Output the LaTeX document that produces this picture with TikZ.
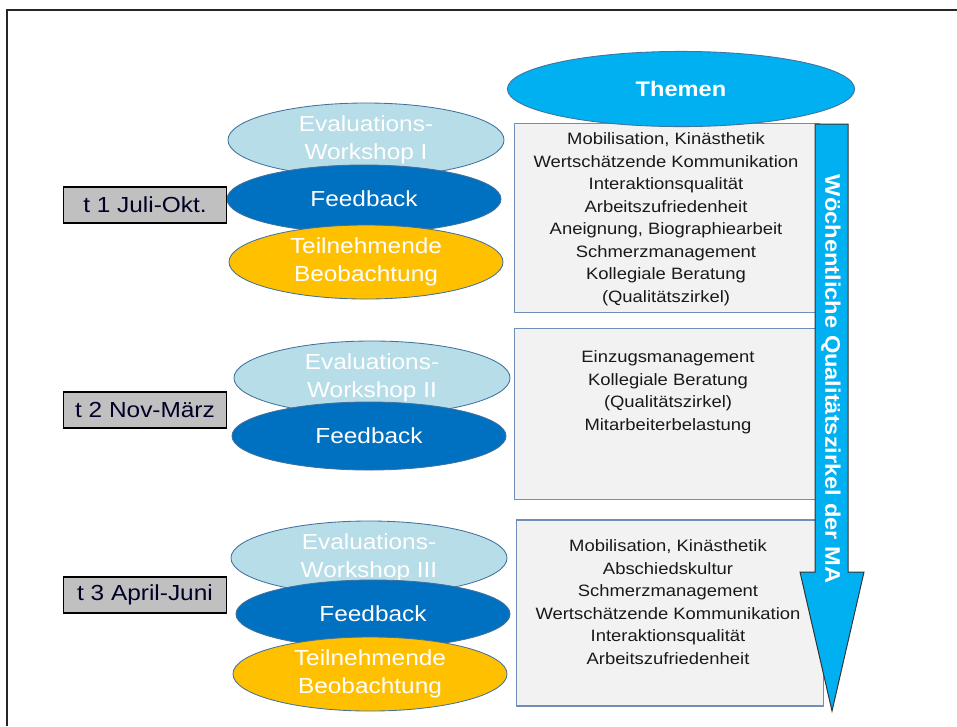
\documentclass[tikz,border=0pt]{standalone}
\usepackage{fontspec}
\setmainfont{Liberation Sans}[FakeStretch=1.12]
\usepackage{tikz}
\usetikzlibrary{positioning,shapes.geometric}

\definecolor{evalblue}{HTML}{B7DDE8}
\definecolor{feedblue}{HTML}{0070C0}
\definecolor{obsyellow}{HTML}{FFC000}
\definecolor{themecyan}{HTML}{00B0F0}
\definecolor{ellborder}{HTML}{41719C}
\definecolor{boxborder}{HTML}{6F8FB8}
\definecolor{boxfill}{HTML}{F2F2F2}
\definecolor{phasegray}{HTML}{C0C0C0}

\begin{document}
\begin{tikzpicture}[
    x=0.025cm, y=-0.025cm,
    oval/.style={ellipse, draw=ellborder, line width=0.6pt, inner sep=0pt,
                 text=white, align=center, font=\fontsize{15.5}{19.5}\selectfont},
    evaloval/.style={oval, fill=evalblue, minimum width=6.9cm, minimum height=1.85cm},
    feedoval/.style={oval, fill=feedblue, minimum width=6.85cm, minimum height=1.7cm},
    obsoval/.style={oval, fill=obsyellow, minimum width=6.85cm, minimum height=1.85cm},
    phase/.style={rectangle, draw=black, line width=0.8pt, fill=phasegray,
                  minimum width=4.08cm, minimum height=0.9cm, inner sep=0pt,
                  text=black!85!blue, font=\fontsize{15.5}{18}\selectfont},
    topicbox/.style={rectangle, draw=boxborder, line width=0.8pt, fill=boxfill},
    topictext/.style={align=center, text=black!90, inner sep=0pt,
                      font=\fontsize{11.7}{16}\selectfont}
]
\useasboundingbox (0,0) rectangle (957,726);
\draw[line width=1.1pt, black!85] (957,10) -- (7,10) -- (7,726);

\node[topicbox, minimum width=7.63cm, minimum height=4.73cm] (box1) at (667,218) {};
\node[topicbox, minimum width=7.63cm, minimum height=4.28cm] (box2) at (667,414) {};
\node[topicbox, minimum width=7.68cm, minimum height=4.65cm] (box3) at (670,613) {};
\node[topictext] (topics1) at (666,219) {Mobilisation, Kinästhetik\\Wertschätzende Kommunikation\\Interaktionsqualität\\Arbeitszufriedenheit\\Aneignung, Biographiearbeit\\Schmerzmanagement\\Kollegiale Beratung\\(Qualitätszirkel)};
\node[topictext] (topics2) at (668,392) {Einzugsmanagement\\Kollegiale Beratung\\(Qualitätszirkel)\\Mitarbeiterbelastung};
\node[topictext] (topics3) at (668,602) {Mobilisation, Kinästhetik\\Abschiedskultur\\Schmerzmanagement\\Wertschätzende Kommunikation\\Interaktionsqualität\\Arbeitszufriedenheit};

\draw[fill=themecyan, draw=black!80, line width=0.7pt]
    (815,124) -- (848,124) -- (848,572) -- (864,572) -- (832,711)
    -- (800,572) -- (815,572) -- cycle;
\node[rotate=-90, text=white, font=\fontsize{15}{18}\selectfont\bfseries] (circle)
    at (831,379) {Wöchentliche Qualitätszirkel der MA};

\node[ellipse, draw=ellborder, line width=0.6pt, fill=themecyan, inner sep=0pt,
      minimum width=8.68cm, minimum height=1.88cm, text=white,
      font=\fontsize{15}{18}\selectfont\bfseries] (themen) at (681,89) {Themen};

\node[evaloval] (eval1) at (366,140) {Evaluations-\\Workshop I};
\node[feedoval] (feed1) at (364,199) {Feedback};
\node[obsoval] (obs1) at (366,262) {Teilnehmende\\Beobachtung};

\node[evaloval] (eval2) at (372,378) {Evaluations-\\Workshop II};
\node[feedoval] (feed2) at (369,436) {Feedback};

\node[evaloval] (eval3) at (369,558) {Evaluations-\\Workshop III};
\node[feedoval] (feed3) at (373,614) {Feedback};
\node[obsoval] (obs3) at (370,674) {Teilnehmende\\Beobachtung};

\node[phase] (t1) at (145,205) {t 1 Juli-Okt.};
\node[phase] (t2) at (145,410) {t 2 Nov-März};
\node[phase] (t3) at (145,595) {t 3 April-Juni};
\end{tikzpicture}
\end{document}
